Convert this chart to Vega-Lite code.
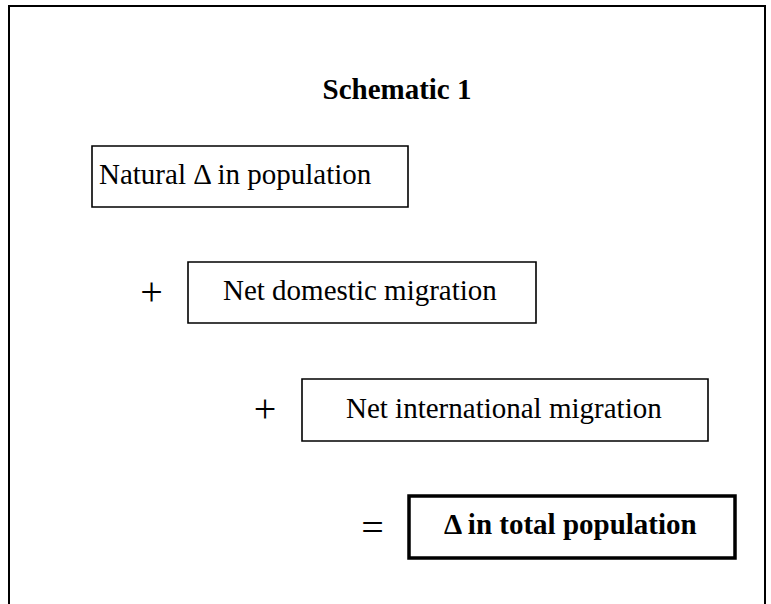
{
  "$schema": "https://vega.github.io/schema/vega-lite/v6.json",
  "width": 771,
  "height": 604,
  "autosize": {"type": "fit", "contains": "padding"},
  "padding": 0,
  "background": "white",
  "view": {"stroke": null},
  "datasets": {
    "boxes": [
      {"name": "frame", "x0": 9, "x1": 765, "y0": 6, "y1": 640},
      {"name": "natural", "x0": 92, "x1": 408, "y0": 146, "y1": 207},
      {"name": "domestic", "x0": 188, "x1": 536, "y0": 262, "y1": 323},
      {"name": "international", "x0": 302, "x1": 708, "y0": 379, "y1": 441},
      {"name": "total", "x0": 409, "x1": 735, "y0": 496, "y1": 558}
    ],
    "labels": [
      {"kind": "title", "label": "Schematic 1", "x": 397, "y": 99},
      {"kind": "box", "label": "Natural Δ in population", "x": 99, "y": 184},
      {"kind": "box", "label": "Net domestic migration", "x": 223, "y": 300},
      {"kind": "box", "label": "Net international migration", "x": 346, "y": 418},
      {"kind": "result", "label": "Δ in total population", "x": 444, "y": 534},
      {"kind": "op", "label": "+", "x": 151.5, "y": 305},
      {"kind": "op", "label": "+", "x": 265, "y": 422},
      {"kind": "op", "label": "=", "x": 372.5, "y": 541}
    ]
  },
  "layer": [
    {
      "data": {"name": "boxes"},
      "transform": [{"filter": "datum.name === 'frame'"}],
      "mark": {"type": "rect", "fill": null, "stroke": "black", "strokeWidth": 2, "clip": true},
      "encoding": {
        "x": {"field": "x0", "type": "quantitative", "scale": {"domain": [0, 771]}, "axis": null},
        "x2": {"field": "x1"},
        "y": {"field": "y0", "type": "quantitative", "scale": {"domain": [0, 604], "reverse": true}, "axis": null},
        "y2": {"field": "y1"}
      }
    },
    {
      "data": {"name": "boxes"},
      "transform": [{"filter": "datum.name !== 'frame' && datum.name !== 'total'"}],
      "mark": {"type": "rect", "fill": "white", "stroke": "black", "strokeWidth": 1.6},
      "encoding": {
        "x": {"field": "x0", "type": "quantitative", "scale": {"domain": [0, 771]}, "axis": null},
        "x2": {"field": "x1"},
        "y": {"field": "y0", "type": "quantitative", "scale": {"domain": [0, 604], "reverse": true}, "axis": null},
        "y2": {"field": "y1"}
      }
    },
    {
      "data": {"name": "boxes"},
      "transform": [{"filter": "datum.name === 'total'"}],
      "mark": {"type": "rect", "fill": "white", "stroke": "black", "strokeWidth": 3.5},
      "encoding": {
        "x": {"field": "x0", "type": "quantitative", "scale": {"domain": [0, 771]}, "axis": null},
        "x2": {"field": "x1"},
        "y": {"field": "y0", "type": "quantitative", "scale": {"domain": [0, 604], "reverse": true}, "axis": null},
        "y2": {"field": "y1"}
      }
    },
    {
      "data": {"name": "labels"},
      "transform": [{"filter": "datum.kind === 'title'"}],
      "mark": {"type": "text", "font": "Liberation Serif", "fontSize": 29, "fontWeight": "bold", "align": "center", "baseline": "alphabetic", "color": "black"},
      "encoding": {
        "x": {"field": "x", "type": "quantitative", "scale": {"domain": [0, 771]}, "axis": null},
        "y": {"field": "y", "type": "quantitative", "scale": {"domain": [0, 604], "reverse": true}, "axis": null},
        "text": {"field": "label"}
      }
    },
    {
      "data": {"name": "labels"},
      "transform": [{"filter": "datum.kind === 'box'"}],
      "mark": {"type": "text", "font": "Liberation Serif", "fontSize": 29, "align": "left", "baseline": "alphabetic", "color": "black"},
      "encoding": {
        "x": {"field": "x", "type": "quantitative", "scale": {"domain": [0, 771]}, "axis": null},
        "y": {"field": "y", "type": "quantitative", "scale": {"domain": [0, 604], "reverse": true}, "axis": null},
        "text": {"field": "label"}
      }
    },
    {
      "data": {"name": "labels"},
      "transform": [{"filter": "datum.kind === 'result'"}],
      "mark": {"type": "text", "font": "Liberation Serif", "fontSize": 29, "fontWeight": "bold", "align": "left", "baseline": "alphabetic", "color": "black"},
      "encoding": {
        "x": {"field": "x", "type": "quantitative", "scale": {"domain": [0, 771]}, "axis": null},
        "y": {"field": "y", "type": "quantitative", "scale": {"domain": [0, 604], "reverse": true}, "axis": null},
        "text": {"field": "label"}
      }
    },
    {
      "data": {"name": "labels"},
      "transform": [{"filter": "datum.kind === 'op'"}],
      "mark": {"type": "text", "font": "Liberation Serif", "fontSize": 40, "align": "center", "baseline": "alphabetic", "color": "black"},
      "encoding": {
        "x": {"field": "x", "type": "quantitative", "scale": {"domain": [0, 771]}, "axis": null},
        "y": {"field": "y", "type": "quantitative", "scale": {"domain": [0, 604], "reverse": true}, "axis": null},
        "text": {"field": "label"}
      }
    }
  ]
}
